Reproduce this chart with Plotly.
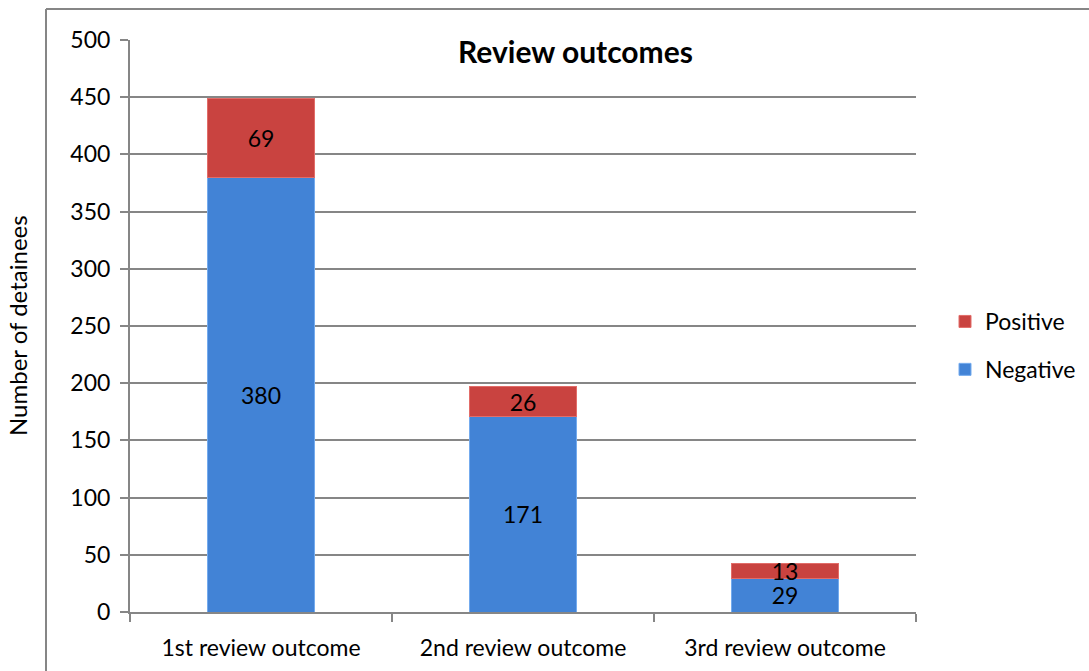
import plotly.graph_objects as go

categories = ["1st review outcome", "2nd review outcome", "3rd review outcome"]
negative = [380, 171, 29]
positive = [69, 26, 13]
y_ticks = [0, 50, 100, 150, 200, 250, 300, 350, 400, 450, 500]

FONT = "Lato, 'Liberation Sans', sans-serif"
W, H = 1089, 671
L, R, T, B = 130, 916, 40, 612

fig = go.Figure()
fig.add_trace(go.Bar(
    x=categories, y=negative, name="Negative", legendgroup="neg", legendrank=2,
    marker=dict(color="#4283D6", line=dict(color="#74ABEE", width=1)),
    text=[str(v) for v in negative], textposition="inside", insidetextanchor="middle",
    textangle=0, constraintext="none",
    textfont=dict(color="black", size=23, family=FONT),
))
fig.add_trace(go.Bar(
    x=categories, y=positive, name="Positive", legendgroup="pos", legendrank=1,
    marker=dict(color="#C94340", line=dict(color="#E26D69", width=1)),
    text=[str(v) for v in positive], textposition="inside", insidetextanchor="middle",
    textangle=0, constraintext="none",
    textfont=dict(color="black", size=23, family=FONT),
))

pw = R - L
ph = B - T
def px(x):
    return (x - L) / pw
def py(y):
    return (B - y) / ph

fig.update_layout(
    width=W, height=H,
    barmode="stack", bargap=0.59,
    margin=dict(l=L, r=W - R, t=T, b=H - B, autoexpand=False),
    paper_bgcolor="white", plot_bgcolor="white",
    font=dict(family=FONT, size=23, color="black"),
    uniformtext=dict(minsize=23, mode="show"),
    legend=dict(
        xref="container", yref="container",
        x=945 / W, y=1 - 300 / H, xanchor="left", yanchor="top",
        traceorder="grouped", font=dict(size=23, family=FONT),
        tracegroupgap=15, itemwidth=30, bgcolor="rgba(0,0,0,0)",
    ),
    xaxis=dict(
        showline=True, linecolor="#868686", linewidth=2,
        ticks="outside", tickson="boundaries", ticklen=8, tickcolor="#868686", tickwidth=2,
        tickfont=dict(size=23, family=FONT), showgrid=False, ticklabelstandoff=14,
    ),
    yaxis=dict(
        range=[0, 500], tickvals=y_ticks,
        showline=True, linecolor="#868686", linewidth=2,
        ticks="outside", ticklen=8, tickcolor="#868686", tickwidth=2,
        showgrid=True, gridcolor="#868686", gridwidth=2,
        tickfont=dict(size=23, family=FONT), zeroline=False, ticklabelstandoff=5,
    ),
    annotations=[
        dict(text="<b>Review outcomes</b>", x=px(575), y=py(51), xref="paper", yref="paper",
             showarrow=False, font=dict(size=30, family=FONT), xanchor="center", yanchor="middle"),
        dict(text="Number of detainees", x=px(17), y=py(326), xref="paper", yref="paper",
             showarrow=False, textangle=-90, font=dict(size=24, family=FONT),
             xanchor="center", yanchor="middle"),
    ],
    shapes=[
        dict(type="line", xref="paper", yref="paper", x0=px(46), x1=px(46), y0=py(9), y1=py(700),
             line=dict(color="#868686", width=2)),
        dict(type="line", xref="paper", yref="paper", x0=px(46), x1=px(1100), y0=py(9), y1=py(9),
             line=dict(color="#868686", width=2)),
    ],
)

fig.write_html("out.html", config={"displayModeBar": False},
               post_script="document.body.style.margin='0';")
